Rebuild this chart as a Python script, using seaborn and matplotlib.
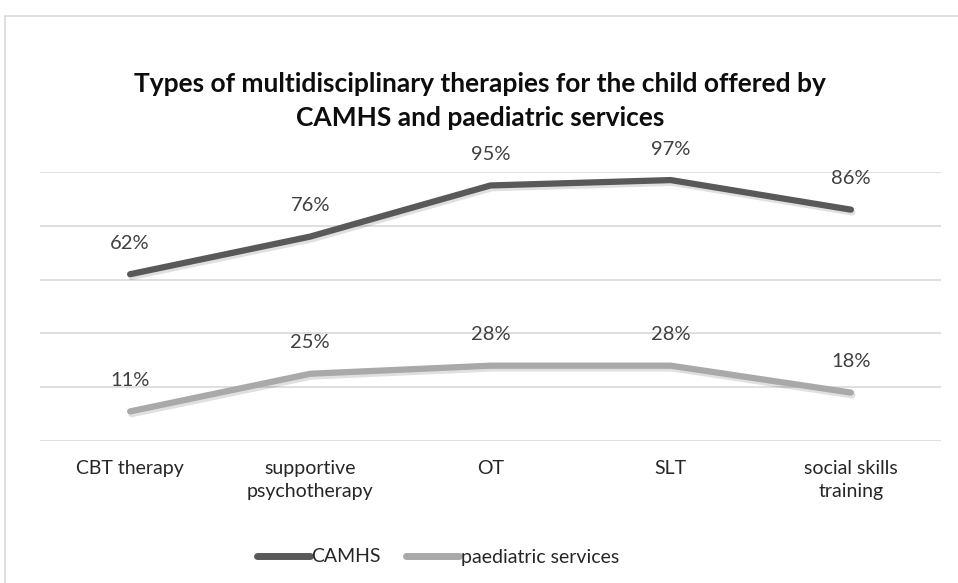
import numpy as np
import pandas as pd
import matplotlib
matplotlib.use("Agg")
import matplotlib.pyplot as plt
import matplotlib.patheffects as pe
import seaborn as sns

categories = ["CBT therapy", "supportive\npsychotherapy", "OT", "SLT", "social skills\ntraining"]
camhs = [62, 76, 95, 97, 86]
paediatric = [11, 25, 28, 28, 18]
series_names = ["CAMHS", "paediatric services"]
colors = ["#595959", "#a9a9a9"]

df = pd.DataFrame({
    "therapy": categories * 2,
    "pct": camhs + paediatric,
    "service": [series_names[0]] * 5 + [series_names[1]] * 5,
})

sns.set_style("white")
plt.rcParams["font.family"] = ["Lato", "DejaVu Sans"]

W, H = 958, 583
fig = plt.figure(figsize=(W / 100, H / 100), dpi=100)
# chart border like the excel chart area
fig.patches.append(plt.Rectangle((5 / W, -0.1), 1.2, 1.1 - 16 / H,
                                 transform=fig.transFigure, fill=False,
                                 edgecolor="#d9d9d9", linewidth=1.2))
ax = fig.add_axes([40 / W, 1 - 441 / H, (941 - 40) / W, (441 - 172) / H])

shadow = [pe.SimpleLineShadow(offset=(1, -2), shadow_color="black", alpha=0.12), pe.Normal()]
sns.lineplot(data=df, x="therapy", y="pct", hue="service", palette=colors,
             linewidth=4.5, sort=False, ax=ax, legend=False,
             solid_capstyle="round", solid_joinstyle="round", path_effects=shadow)

ax.set_xlim(-0.5, len(categories) - 0.5)
ax.set_ylim(0, 100)
ax.set_yticks(np.arange(0, 101, 20))
ax.grid(axis="y", color="#d9d9d9", linewidth=1.2)
ax.set_axisbelow(True)
ax.tick_params(axis="y", left=False, labelleft=False)
ax.tick_params(axis="x", bottom=False, labelsize=14, colors="#262626", pad=10)
ax.set_xticks(range(len(categories)))
ax.set_xticklabels(categories, linespacing=1.45)
for s in ax.spines.values():
    s.set_visible(False)
ax.set_xlabel("")
ax.set_ylabel("")

for vals in (camhs, paediatric):
    for i, v in enumerate(vals):
        ax.annotate(f"{v}%", (i, v), xytext=(0, 31), textcoords="offset pixels",
                    ha="center", va="center", fontsize=14.5, color="#404040")

fig.text(480 / W, 1 - 101 / H, "Types of multidisciplinary therapies for the child offered by\nCAMHS and paediatric services",
         ha="center", va="center", fontsize=19, fontweight="bold", color="#0d0d0d", linespacing=1.55)

handles = [plt.Line2D([], [], color=c, linewidth=5, solid_capstyle="round") for c in colors]
fig.legend(handles, series_names, loc="center", bbox_to_anchor=(438 / W, 1 - 557 / H),
           ncol=2, frameon=False, fontsize=14, handlelength=2.7, handletextpad=0.1,
           columnspacing=1.3, labelcolor="#262626")

fig.savefig("out.png", dpi=100)
